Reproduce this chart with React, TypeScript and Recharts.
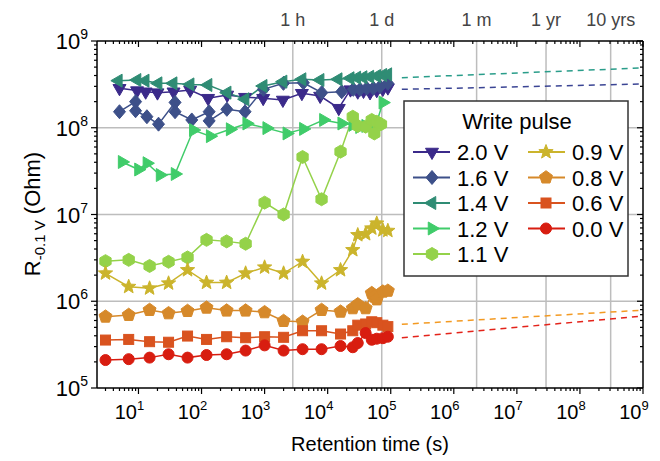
import React from "react";
import { LineChart, Line, XAxis, YAxis, ReferenceLine } from "recharts";

const FONT = "'Liberation Sans', Arial, Helvetica, sans-serif";

// retention times (s) and resistances (Ohm) per write pulse
const t20 = [5, 9.5, 13, 20, 36, 66, 127, 255, 490, 950, 1950, 3900, 7600, 15000, 23000, 30000, 37000, 47000, 60000, 75000, 90000];
const r20 = [2.85e8, 2.68e8, 2.6e8, 2.54e8, 2.6e8, 2.72e8, 2.19e8, 2.39e8, 2.25e8, 2.19e8, 2.09e8, 2.5e8, 2.32e8, 1.68e8, 2.75e8, 2.6e8, 2.65e8, 2.55e8, 2.7e8, 2.8e8, 2.9e8];

const t16 = [5, 9, 9, 13.6, 20.8, 38, 38, 70, 132, 132, 252, 490, 958, 1990, 4120, 8050, 16700, 25500, 32600, 41700, 53000, 67600, 89700];
const r16 = [1.53e8, 2.0e8, 1.57e8, 1.34e8, 1.1e8, 1.96e8, 1.53e8, 1.23e8, 1.53e8, 1.2e8, 1.63e8, 1.53e8, 2.77e8, 3.25e8, 3.3e8, 2.54e8, 2.6e8, 2.77e8, 2.77e8, 2.85e8, 2.85e8, 2.97e8, 3.25e8];

const t14 = [4.8, 9.5, 12.8, 20.5, 35.5, 66, 127, 255, 491, 950, 1965, 3930, 7600, 14700, 22800, 29000, 36500, 46700, 60000, 75000, 90000];
const r14 = [3.49e8, 3.55e8, 3.49e8, 3.25e8, 3.25e8, 3.16e8, 3.11e8, 2.54e8, 2.13e8, 3.03e8, 3.4e8, 3.62e8, 3.55e8, 3.62e8, 3.72e8, 3.78e8, 3.82e8, 3.87e8, 3.95e8, 4.06e8, 4.13e8];

const t12 = [5.5, 10, 13.6, 22, 38, 74, 137, 284, 520, 1080, 2250, 4120, 8560, 16700, 25000, 32000, 40000, 50000, 60000, 75000];
const r12 = [4.03e7, 3.3e7, 3.9e7, 2.85e7, 2.93e7, 9.4e7, 8.0e7, 9.6e7, 1.12e8, 9.9e7, 8.6e7, 9.7e7, 1.23e8, 1.12e8, 1.08e8, 1.02e8, 1.05e8, 1.1e8, 1.15e8, 1.95e8];

const t11 = [3, 7, 15, 30, 60, 120, 250, 500, 1000, 2000, 4000, 8000, 16000, 25000, 30000, 40000, 50000, 55000, 60000, 70000];
const r11 = [2.9e6, 3.0e6, 2.55e6, 2.85e6, 3.2e6, 5.1e6, 4.9e6, 4.6e6, 1.37e7, 1.0e7, 4.6e7, 1.5e7, 5.3e7, 1.34e8, 1.05e8, 1.03e8, 1.23e8, 8.6e7, 1.17e8, 1.1e8];

const t09 = [3, 7, 15, 30, 60, 120, 250, 500, 1000, 2000, 4000, 8000, 16000, 25000, 30000, 40000, 50000, 60000, 75000, 90000];
const r09 = [2.1e6, 1.47e6, 1.41e6, 1.61e6, 2.29e6, 1.64e6, 1.64e6, 2.1e6, 2.46e6, 2.1e6, 2.86e6, 1.61e6, 2.29e6, 3.9e6, 5.8e6, 5.96e6, 6.93e6, 7.9e6, 6.6e6, 6.5e6];

const t08 = [3, 7, 15, 30, 60, 120, 250, 500, 1000, 2000, 4000, 8000, 16000, 25000, 30000, 40000, 50000, 55000, 60000, 75000, 90000];
const r08 = [6.64e5, 6.95e5, 7.93e5, 7.26e5, 7.72e5, 8.43e5, 7.8e5, 7.8e5, 7.46e5, 5.92e5, 5.8e5, 7.93e5, 7.58e5, 8.3e5, 9.2e5, 8.3e5, 1.24e6, 1.13e6, 1.05e6, 1.29e6, 1.32e6];

const t06 = [3, 7, 15, 30, 60, 120, 250, 500, 1000, 2000, 4000, 8000, 16000, 25000, 30000, 40000, 50000, 60000, 75000, 90000];
const r06 = [3.57e5, 3.63e5, 3.42e5, 3.37e5, 3.97e5, 3.63e5, 3.9e5, 3.8e5, 3.9e5, 3.84e5, 4.57e5, 4.57e5, 4.19e5, 4.57e5, 5.3e5, 5.47e5, 5.8e5, 5.66e5, 5.3e5, 5.1e5];

const t00 = [3, 7, 15, 30, 60, 120, 250, 500, 1000, 2000, 4000, 8000, 16000, 25000, 30000, 40000, 50000, 60000, 75000, 90000];
const r00 = [2.1e5, 2.15e5, 2.24e5, 2.45e5, 2.24e5, 2.4e5, 2.45e5, 2.7e5, 3.1e5, 2.7e5, 2.8e5, 2.8e5, 3.05e5, 2.95e5, 3.3e5, 4.3e5, 3.6e5, 3.7e5, 3.75e5, 3.9e5];

// extrapolations (dashed)
const tFit = [1.5e5, 1e9];
const fit14 = [3.78e8, 4.9e8];
const fit20 = [2.77e8, 3.2e8];
const fit08 = [5.42e5, 7.9e5];
const fit00 = [3.8e5, 6.76e5];

const yDecades = [5, 6, 7, 8, 9];
const timeMarks = [2800, 72000, 2.3e6, 2.9e7, 3.07e8];
const timeLabels = ["1 h", "1 d", "1 m", "1 yr", "10 yrs"];

const X_MIN = 2.2;
const X_MAX = 1e9;
const Y_MIN = 1e5;
const Y_MAX = 1e9;

type Shape = "down" | "diamond" | "left" | "right" | "hex" | "star" | "pent" | "square" | "circle";

type Series = { name: string; color: string; shape: Shape; t: number[]; r: number[] };

const series: Series[] = [
  { name: "2.0 V", color: "#3b2a8a", shape: "down", t: t20, r: r20 },
  { name: "1.6 V", color: "#3d5089", shape: "diamond", t: t16, r: r16 },
  { name: "1.4 V", color: "#2f8c74", shape: "left", t: t14, r: r14 },
  { name: "1.2 V", color: "#40cc6a", shape: "right", t: t12, r: r12 },
  { name: "1.1 V", color: "#94d24a", shape: "hex", t: t11, r: r11 },
  { name: "0.9 V", color: "#cbb42c", shape: "star", t: t09, r: r09 },
  { name: "0.8 V", color: "#d6892a", shape: "pent", t: t08, r: r08 },
  { name: "0.6 V", color: "#d9531f", shape: "square", t: t06, r: r06 },
  { name: "0.0 V", color: "#d81d10", shape: "circle", t: t00, r: r00 },
];

const fits = [
  { color: "#2a9d8a", r: fit14 },
  { color: "#3b4594", r: fit20 },
  { color: "#f39a22", r: fit08 },
  { color: "#e3231a", r: fit00 },
];

const toRows = (t: number[], r: number[]) => t.map((v, i) => ({ t: v, r: r[i] }));

function logTicks(lo: number, hi: number) {
  const out: number[] = [];
  for (let e = Math.floor(Math.log10(lo)); e <= Math.ceil(Math.log10(hi)); e++) {
    for (let m = 1; m <= 9; m++) {
      const v = m * Math.pow(10, e);
      if (v >= lo * 0.999 && v <= hi * 1.001) out.push(v);
    }
  }
  return out;
}
const xTicks = logTicks(X_MIN, X_MAX);
const yTicks = logTicks(Y_MIN, Y_MAX);
const isMajor = (v: number) => {
  const lg = Math.log10(v);
  return Math.abs(lg - Math.round(lg)) < 1e-6;
};

function poly(n: number, r: number, start: number, cx: number, cy: number) {
  const pts: string[] = [];
  for (let i = 0; i < n; i++) {
    const a = ((start + (360 / n) * i) * Math.PI) / 180;
    pts.push(`${cx + r * Math.cos(a)},${cy + r * Math.sin(a)}`);
  }
  return pts.join(" ");
}

function starPts(cx: number, cy: number, ro: number, ri: number) {
  const pts: string[] = [];
  for (let i = 0; i < 10; i++) {
    const r = i % 2 === 0 ? ro : ri;
    const a = ((-90 + 36 * i) * Math.PI) / 180;
    pts.push(`${cx + r * Math.cos(a)},${cy + r * Math.sin(a)}`);
  }
  return pts.join(" ");
}

function Marker({ shape, cx, cy, color }: { shape: Shape; cx: number; cy: number; color: string }) {
  const p = { fill: color, stroke: color, strokeWidth: 1 };
  switch (shape) {
    case "down":
      return <polygon points={poly(3, 7.5, 90, cx, cy)} {...p} />;
    case "left":
      return <polygon points={poly(3, 7.5, 180, cx, cy)} {...p} />;
    case "right":
      return <polygon points={poly(3, 7.5, 0, cx, cy)} {...p} />;
    case "diamond":
      return <polygon points={`${cx},${cy - 7} ${cx + 6},${cy} ${cx},${cy + 7} ${cx - 6},${cy}`} {...p} />;
    case "hex":
      return <polygon points={poly(6, 6.5, -90, cx, cy)} {...p} />;
    case "pent":
      return <polygon points={poly(5, 6.8, -90, cx, cy)} {...p} />;
    case "star":
      return <polygon points={starPts(cx, cy, 7.5, 3.2)} {...p} />;
    case "square":
      return <rect x={cx - 5} y={cy - 5} width={10} height={10} {...p} />;
    default:
      return <circle cx={cx} cy={cy} r={5.5} {...p} />;
  }
}

const dotFor = (s: Series) => (props: any) => {
  const { cx, cy, index } = props;
  if (cx == null || cy == null) return <g key={`n${index}`} />;
  return <Marker key={`${s.name}-${index}`} shape={s.shape} cx={cx} cy={cy} color={s.color} />;
};

const XTickBottom = (props: any) => {
  const { x, y, payload } = props;
  const major = isMajor(payload.value);
  return (
    <g>
      <line x1={x} x2={x} y1={y} y2={y + (major ? 6 : 3)} stroke="#000" strokeWidth={1.2} />
      {major && (
        <text x={x - 9} y={y + 31} textAnchor="middle" fontFamily={FONT} fontSize={20} fill="#000">
          10
          <tspan dy={-9} fontSize={13}>
            {Math.round(Math.log10(payload.value))}
          </tspan>
        </text>
      )}
    </g>
  );
};

const XTickTop = (props: any) => {
  const { x, y, payload } = props;
  const major = isMajor(payload.value);
  return <line x1={x} x2={x} y1={y} y2={y + (major ? 6 : 3)} stroke="#000" strokeWidth={1.2} />;
};

const YTickLeft = (props: any) => {
  const { x, y, payload } = props;
  const major = isMajor(payload.value);
  return (
    <g>
      <line x1={x - (major ? 6 : 3)} x2={x} y1={y} y2={y} stroke="#000" strokeWidth={1.2} />
      {major && (
        <text x={x - 9} y={y + 8} textAnchor="end" fontFamily={FONT} fontSize={22} fill="#000">
          10
          <tspan dy={-10} fontSize={14}>
            {Math.round(Math.log10(payload.value))}
          </tspan>
        </text>
      )}
    </g>
  );
};

const YTickRight = (props: any) => {
  const { x, y, payload } = props;
  const major = isMajor(payload.value);
  return <line x1={x - (major ? 6 : 3)} x2={x} y1={y} y2={y} stroke="#000" strokeWidth={1.2} />;
};

const legendRows = [152, 177.5, 203, 228.5, 254];

function LegendBox() {
  const cols = [
    { lx: 413, mx: 432, tx: 457 },
    { lx: 528, mx: 546, tx: 572 },
  ];
  return (
    <g>
      <rect x={404} y={101} width={224} height={175} fill="#fff" stroke="#333" strokeWidth={1.5} />
      <text x={517} y={129} textAnchor="middle" fontFamily={FONT} fontSize={22} fill="#000">
        Write pulse
      </text>
      {series.map((s, i) => {
        const c = cols[i < 5 ? 0 : 1];
        const y = legendRows[i < 5 ? i : i - 5];
        return (
          <g key={s.name}>
            <line x1={c.lx} x2={c.lx + 37} y1={y} y2={y} stroke={s.color} strokeWidth={2} />
            <Marker shape={s.shape} cx={c.mx} cy={y} color={s.color} />
            <text x={c.tx} y={y + 8} fontFamily={FONT} fontSize={22} fill="#000">
              {s.name}
            </text>
          </g>
        );
      })}
    </g>
  );
}

export default function App() {
  return (
    <div style={{ position: "absolute", left: 0, top: 0, width: 660, height: 461, background: "#fff" }}>
      <LineChart width={660} height={461} margin={{ top: 40, right: 16, bottom: 72, left: 96 }}>
        <XAxis
          xAxisId="b"
          dataKey="t"
          type="number"
          scale="log"
          domain={[X_MIN, X_MAX]}
          allowDataOverflow
          ticks={xTicks}
          interval={0}
          tick={XTickBottom}
          tickLine={false}
          tickSize={0}
          tickMargin={0}
          height={1}
          axisLine={{ stroke: "#000", strokeWidth: 1.5 }}
        />
        <XAxis
          xAxisId="t"
          orientation="top"
          dataKey="t"
          type="number"
          scale="log"
          domain={[X_MIN, X_MAX]}
          allowDataOverflow
          ticks={xTicks}
          interval={0}
          tick={XTickTop}
          tickLine={false}
          tickSize={0}
          tickMargin={0}
          height={1}
          axisLine={{ stroke: "#000", strokeWidth: 1.5 }}
        />
        <YAxis
          yAxisId="l"
          type="number"
          scale="log"
          domain={[Y_MIN, Y_MAX]}
          allowDataOverflow
          ticks={yTicks}
          interval={0}
          tick={YTickLeft}
          tickLine={false}
          tickSize={0}
          tickMargin={0}
          width={1}
          axisLine={{ stroke: "#000", strokeWidth: 1.5 }}
        />
        <YAxis
          yAxisId="r"
          orientation="right"
          type="number"
          scale="log"
          domain={[Y_MIN, Y_MAX]}
          allowDataOverflow
          ticks={yTicks}
          interval={0}
          tick={YTickRight}
          tickLine={false}
          tickSize={0}
          tickMargin={0}
          width={1}
          axisLine={{ stroke: "#000", strokeWidth: 1.5 }}
        />
        {yDecades.slice(1, -1).map((d) => (
          <ReferenceLine key={`h${d}`} xAxisId="b" yAxisId="l" y={Math.pow(10, d)} stroke="#bdbdbd" strokeWidth={1.5} />
        ))}
        {timeMarks.map((v, i) => (
          <ReferenceLine
            key={timeLabels[i]}
            xAxisId="b"
            yAxisId="l"
            x={v}
            stroke="#bdbdbd"
            strokeWidth={1.5}
            label={{ value: timeLabels[i], position: "top", offset: 15, fill: "#444", fontSize: 18, fontFamily: FONT }}
          />
        ))}
        {fits.map((f, i) => (
          <Line
            key={`fit${i}`}
            xAxisId="b"
            yAxisId="l"
            data={toRows(tFit, f.r)}
            dataKey="r"
            stroke={f.color}
            strokeWidth={1.5}
            strokeDasharray="6 5"
            dot={false}
            activeDot={false}
            isAnimationActive={false}
          />
        ))}
        {series.map((s) => (
          <Line
            key={s.name}
            xAxisId="b"
            yAxisId="l"
            data={toRows(s.t, s.r)}
            dataKey="r"
            stroke={s.color}
            strokeWidth={1.5}
            dot={dotFor(s)}
            activeDot={false}
            isAnimationActive={false}
          />
        ))}
      </LineChart>
      <svg width={660} height={461} style={{ position: "absolute", left: 0, top: 0, pointerEvents: "none" }}>
        <text x={370} y={451} textAnchor="middle" fontFamily={FONT} fontSize={20} fill="#000">
          Retention time (s)
        </text>
        <text transform="translate(40,214) rotate(-90)" textAnchor="middle" fontFamily={FONT} fontSize={22} fill="#000">
          R
          <tspan dy={5} fontSize={15}>
            -0.1 V
          </tspan>
          <tspan dy={-5} fontSize={22}>
            {" (Ohm)"}
          </tspan>
        </text>
        <LegendBox />
      </svg>
    </div>
  );
}
